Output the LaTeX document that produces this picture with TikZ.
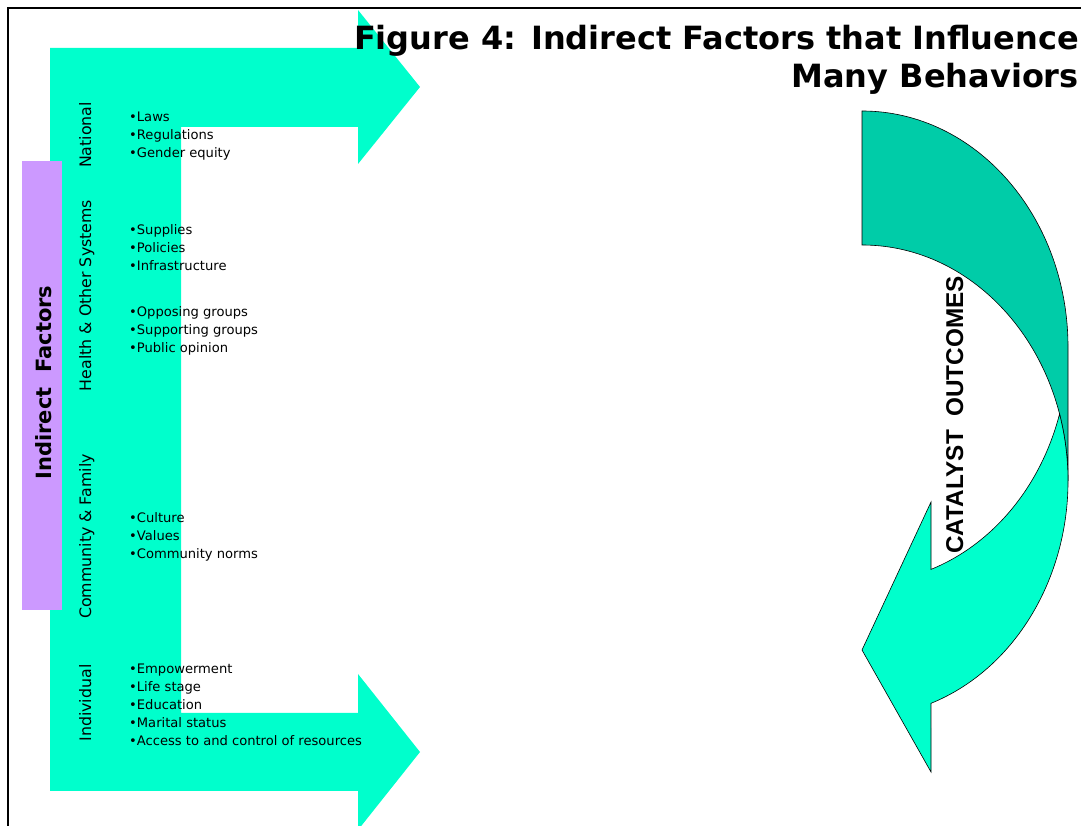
\documentclass[tikz,border=0pt]{standalone}
\usepackage{fontspec}
\setmainfont{DejaVu Sans}
\newfontfamily\arialfont{Liberation Sans}
\usetikzlibrary{positioning}
\definecolor{aqua}{RGB}{0,255,204}
\definecolor{darkaqua}{RGB}{0,204,168}
\definecolor{lilac}{RGB}{204,153,255}

\begin{document}
\begin{tikzpicture}[x=1pt,y=1pt,
  item/.style={anchor=base west,inner sep=0pt,
    font=\fontsize{13.1}{18}\selectfont},
  level/.style={rotate=90,anchor=base,inner sep=0pt,
    font=\fontsize{15.8}{19}\selectfont},
  heading/.style={anchor=base east,inner sep=0pt,
    font=\bfseries\fontsize{32}{38}\selectfont},
  outline/.style={draw=black,line width=0.6pt}
]
\clip (0,0) rectangle (1081,826);
% frame
\draw[line width=2.3pt] (8,-2) -- (8,818) -- (1083,818);
% bracket of two arrows
\fill[aqua] (50,778) -- (358,778) -- (358,816) -- (420,739) -- (358,662)
  -- (358,699) -- (181,699) -- (181,113) -- (358,113) -- (358,152)
  -- (420,74) -- (358,-4) -- (358,35) -- (50,35) -- cycle;
\fill[lilac] (22,216) rectangle (62,665);
\node[rotate=90,anchor=base,inner sep=0pt,
  font=\bfseries\fontsize{21}{25}\selectfont] (indirect) at (51,443.5)
  {Indirect\ \ Factors};
\node[level] (national) at (91,691) {National};
\node[level] (health) at (91,530.5) {Health \& Other Systems};
\node[level] (community) at (91,289.5) {Community \& Family};
\node[level] (individual) at (91,123) {Individual};
% factor lists
\foreach \txt [count=\k from 0] in {Laws,Regulations,Gender equity}
  \node[item] (nat\k) at (129,704-18*\k) {•\txt};
\foreach \txt [count=\k from 0] in {Supplies,Policies,Infrastructure}
  \node[item] (sys\k) at (129,591-18*\k) {•\txt};
\foreach \txt [count=\k from 0] in {Opposing groups,Supporting groups,
    Public opinion}
  \node[item] (grp\k) at (129,509-18*\k) {•\txt};
\foreach \txt [count=\k from 0] in {Culture,Values,Community norms}
  \node[item] (com\k) at (129,303-18*\k) {•\txt};
\foreach \txt [count=\k from 0] in {Empowerment,Life stage,Education,
    Marital status,Access to and control of resources}
  \node[item] (ind\k) at (129,152-18*\k) {•\txt};
% curved arrow
\filldraw[outline,fill=darkaqua] (862,715)
  arc[start angle=90,end angle=0,x radius=206,y radius=236]
  -- (1068,345)
  arc[start angle=0,end angle=90,x radius=206,y radius=236] -- cycle;
\filldraw[outline,fill=aqua] (1059.5,412)
  arc[start angle=16.49,end angle=-70.43,x radius=206,y radius=236]
  -- (931,54) -- (862,176) -- (931,324) -- (931,256.6)
  arc[start angle=-70.43,end angle=-16.49,x radius=206,y radius=236]
  -- cycle;
\node[rotate=90,anchor=base,inner sep=0pt,
  font=\arialfont\bfseries\fontsize{24.3}{28}\selectfont] (catalyst)
  at (963,411) {CATALYST\ \ OUTCOMES};
% title
\node[heading] (title1) at (1079,776)
  {Figure 4: Indirect Factors that Influence};
\node[heading] (title2) at (1079,738) {Many Behaviors};
\end{tikzpicture}
\end{document}
